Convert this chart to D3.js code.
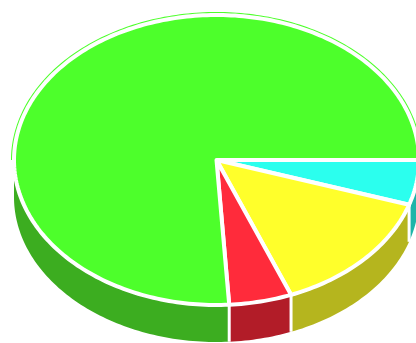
<!DOCTYPE html>
<html lang="en">
<head>
  <meta charset="UTF-8">
  <title>3D Pie</title>
  <style>
    html, body { margin: 0; padding: 0; background: #fff; overflow: hidden; }
  </style>
</head>
<body>
  <div id="chart"></div>
  <script src="https://d3js.org/d3.v7.min.js"></script>
  <script>
    // Slice data, clockwise from 3 o'clock
    const categories = ["A", "B", "C", "D"];
    const values = [5, 14, 5, 76];
    const topColors = ["#2bffee", "#ffff2b", "#ff2b3b", "#4dff2b"];
    const sideColors = ["#1eb5a9", "#b5b51e", "#b21c28", "#3cad20"];

    const width = 416, height = 343;
    const cx = 216.5, cy = 160, rx = 202.5, ry = 145, depth = 37;

    const svg = d3.select("#chart").append("svg")
      .attr("width", width)
      .attr("height", height);

    // pie starting at 3 o'clock
    const pie = d3.pie()
      .sort(null)
      .startAngle(Math.PI / 2)
      .endAngle(Math.PI / 2 + 2 * Math.PI)
      .value(d => d.value);

    const arcs = pie(categories.map((c, i) => ({name: c, value: values[i], i: i})));

    // ellipse point for a d3 angle (0 = 12 o'clock, clockwise)
    const px = (a) => cx + rx * Math.sin(a);
    const py = (a, dz) => cy - ry * Math.cos(a) + (dz || 0);

    function samples(a0, a1) {
      const n = Math.max(2, Math.ceil(Math.abs(a1 - a0) / 0.02));
      return d3.range(n + 1).map(k => a0 + (a1 - a0) * k / n);
    }

    const line = d3.line();

    function topPath(d) {
      const pts = [[cx, cy]].concat(samples(d.startAngle, d.endAngle).map(a => [px(a), py(a)]));
      return line(pts) + "Z";
    }

    function sidePath(a0, a1) {
      const top = samples(a0, a1).map(a => [px(a), py(a)]);
      const bot = samples(a0, a1).reverse().map(a => [px(a), py(a, depth)]);
      return line(top.concat(bot)) + "Z";
    }

    // front sides: visible from 3 o'clock (PI/2) to 9 o'clock (3PI/2)
    const sides = [];
    arcs.forEach(d => {
      const a0 = Math.max(d.startAngle, Math.PI / 2);
      const a1 = Math.min(d.endAngle, 3 * Math.PI / 2);
      if (a1 > a0) sides.push({a0: a0, a1: a1, i: d.data.i});
    });

    svg.append("g")
      .selectAll("path")
      .data(sides)
      .enter()
      .append("path")
      .attr("d", d => sidePath(d.a0, d.a1))
      .style("fill", d => sideColors[d.i])
      .style("stroke", "none");

    // white separators on the side
    svg.append("g")
      .selectAll("line")
      .data(sides.filter(d => d.a0 > Math.PI / 2 + 0.001))
      .enter()
      .append("line")
      .attr("x1", d => px(d.a0))
      .attr("x2", d => px(d.a0))
      .attr("y1", d => py(d.a0))
      .attr("y2", d => py(d.a0, depth))
      .style("stroke", "#fff")
      .style("stroke-width", 3);

    // thin outline on the back rim
    svg.append("path")
      .attr("d", line(samples(-Math.PI / 2, Math.PI / 2).map(a => [px(a), py(a)])))
      .style("fill", "none")
      .style("stroke", topColors[3])
      .style("stroke-width", 6);

    // top faces
    svg.append("g")
      .selectAll("path")
      .data(arcs)
      .enter()
      .append("path")
      .attr("d", topPath)
      .style("fill", d => topColors[d.data.i])
      .style("stroke", "#fff")
      .style("stroke-width", 4)
      .style("stroke-linejoin", "round");
  </script>
</body>
</html>
